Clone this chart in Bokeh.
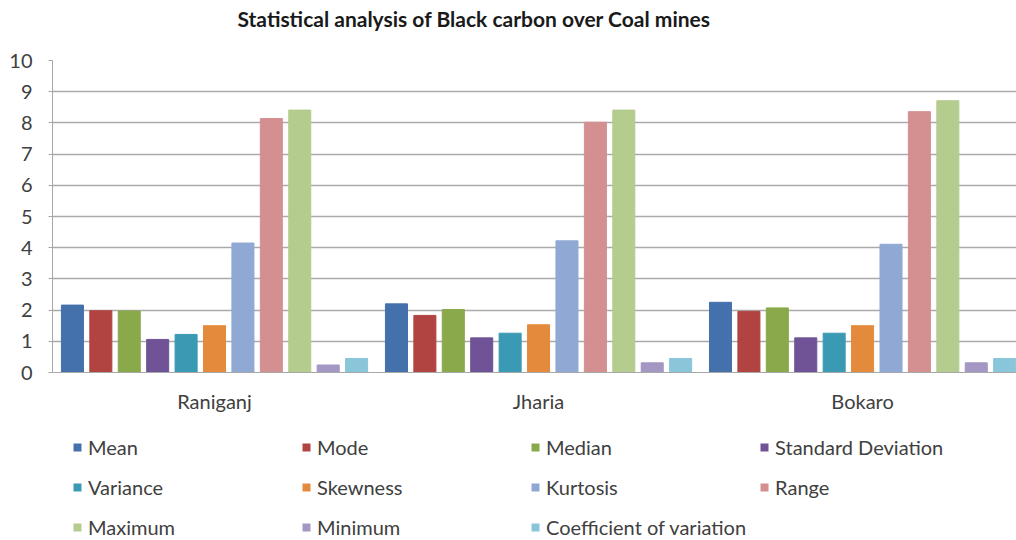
from bokeh.plotting import figure
from bokeh.layouts import column
from bokeh.models import (ColumnDataSource, Range1d, FixedTicker, Legend,
                          LegendItem, Label)
from bokeh.embed import file_html
from bokeh.resources import INLINE

# Sites along the category axis
sites = ["Raniganj", "Jharia", "Bokaro"]

# Statistics of black carbon at each site (same order as sites)
mean = [2.16, 2.20, 2.25]
mode = [1.98, 1.83, 1.96]
median = [1.97, 2.02, 2.07]
std_dev = [1.06, 1.11, 1.11]
variance = [1.22, 1.26, 1.26]
skewness = [1.50, 1.53, 1.50]
kurtosis = [4.15, 4.22, 4.11]
value_range = [8.14, 8.02, 8.36]
maximum = [8.41, 8.41, 8.71]
minimum = [0.24, 0.31, 0.31]
coeff_var = [0.45, 0.45, 0.45]

stat_labels = ["Mean", "Mode", "Median", "Standard Deviation", "Variance",
               "Skewness", "Kurtosis", "Range", "Maximum", "Minimum",
               "Coefficient of variation"]
series = [mean, mode, median, std_dev, variance, skewness, kurtosis,
          value_range, maximum, minimum, coeff_var]
colors = ["#4470AB", "#B14440", "#8AA94A", "#6F5396", "#3A9AB4", "#E48A3C",
          "#8FA9D4", "#D49090", "#B4CC8E", "#A497C3", "#8AC6DA"]

FONT = "Lato"
TEXT = "#404040"


def strip(height):
    f = figure(width=1016, height=height, output_backend="svg",
               toolbar_location=None, x_axis_type=None, y_axis_type=None,
               outline_line_color=None, min_border_left=0, min_border_right=0,
               min_border_top=0, min_border_bottom=0,
               x_range=Range1d(0, 1), y_range=Range1d(0, 1))
    f.grid.grid_line_color = None
    return f


# Title strip
head = strip(36)
head.add_layout(Label(x=185, y=18, x_units="screen", y_units="screen",
                      text="Statistical analysis of Black carbon over Coal mines",
                      text_font=FONT, text_font_size="21px",
                      text_font_style="bold", text_color="#1a1a1a",
                      text_align="left", text_baseline="middle"))

# Main bar chart
p = figure(width=1016, height=384, output_backend="svg", toolbar_location=None,
           x_range=Range1d(0, 2.975), y_range=Range1d(0, 10),
           min_border_left=52, min_border_right=0, min_border_top=24,
           min_border_bottom=48, outline_line_color=None)

pitch = 0.0877
bar_w = 0.068
for j, (vals, col) in enumerate(zip(series, colors)):
    src = ColumnDataSource(dict(x=[i + 0.5 + (j - 5) * pitch for i in range(len(sites))],
                                top=vals))
    p.vbar(x="x", top="top", width=bar_w, bottom=0, source=src,
           fill_color=col, line_color=col, line_width=1)

# y axis
p.yaxis.ticker = FixedTicker(ticks=list(range(0, 11)))
p.yaxis.axis_line_color = "#a8a8a8"
p.yaxis.major_tick_line_color = "#a8a8a8"
p.yaxis.major_tick_in = 0
p.yaxis.major_tick_out = 4
p.yaxis.minor_tick_line_color = None
p.yaxis.major_label_standoff = 16
p.yaxis.major_label_text_font = FONT
p.yaxis.major_label_text_font_size = "20px"
p.yaxis.major_label_text_color = TEXT

# x axis with site names
p.xaxis.ticker = FixedTicker(ticks=[i + 0.5 for i in range(len(sites))])
p.xaxis.major_label_overrides = {i + 0.5: s for i, s in enumerate(sites)}
p.xaxis.axis_line_color = "#a8a8a8"
p.xaxis.major_tick_line_color = None
p.xaxis.minor_tick_line_color = None
p.xaxis.major_label_standoff = 10
p.xaxis.major_label_text_font = FONT
p.xaxis.major_label_text_font_size = "20px"
p.xaxis.major_label_text_color = TEXT

p.xgrid.grid_line_color = None
p.ygrid.grid_line_color = "#aaaaaa"
p.ygrid.grid_line_width = 1.5

# Legend strip beneath the chart; its swatch renderers are zero-height and
# lie outside the visible range, so only the legend swatches show
lg = strip(120)
items = []
for label, col in zip(stat_labels, colors):
    r = lg.vbar(x=[-5], bottom=[-5], top=[-5], width=0.1,
                fill_color=col, line_color=None)
    items.append(LegendItem(label=label, renderers=[r]))

legend = Legend(items=items, ncols=4, orientation="horizontal",
                location=(20, 0), glyph_width=10, glyph_height=10,
                label_standoff=6, label_width=200, label_height=27,
                spacing=13, padding=0, margin=0, border_line_color=None,
                background_fill_alpha=0,
                label_text_font=FONT, label_text_font_size="20px",
                label_text_color=TEXT)
lg.add_layout(legend, "center")

layout = column(head, p, lg)
open("out.html", "w").write(file_html(layout, INLINE))
